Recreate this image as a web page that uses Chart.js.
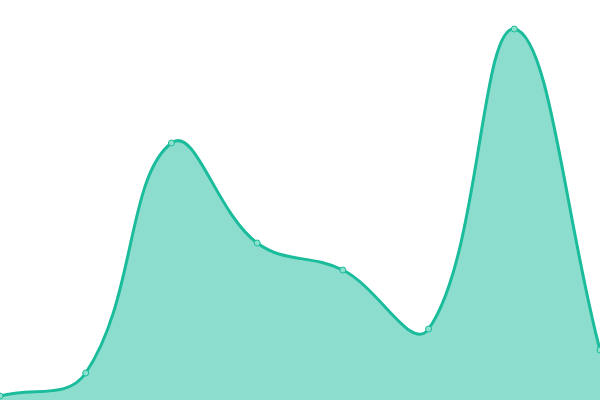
<!DOCTYPE html>
<html>
<head>
<meta charset="utf-8">
<script src="https://cdn.jsdelivr.net/npm/chart.js@4"></script>
<style>
  html, body { margin: 0; padding: 0; background: #fff; }
  #wrap { width: 600px; height: 400px; }
</style>
</head>
<body>
<div id="wrap"><canvas id="areaChart"></canvas></div>
<script>
const categories = ['1', '2', '3', '4', '5', '6', '7', '8'];
const values = [4, 27, 257, 157, 130, 71, 371, 50];
const yMin = 0;
const yMax = 400;

const ctx = document.getElementById('areaChart').getContext('2d');
new Chart(ctx, {
    type: 'line',
    data: {
        labels: categories,
        datasets: [{
            data: values,
            borderColor: '#1ABC9C',
            backgroundColor: 'rgba(26,188,156,0.5)',
            borderWidth: 3,
            fill: 'origin',
            tension: 0.4,
            pointRadius: 3,
            pointBorderWidth: 1,
            pointBackgroundColor: 'rgba(140,225,205,1)',
            pointBorderColor: '#1ABC9C'
        }]
    },
    options: {
        responsive: true,
        maintainAspectRatio: false,
        animation: false,
        layout: { padding: 0, autoPadding: false },
        plugins: { legend: { display: false }, tooltip: { enabled: false } },
        scales: {
            x: { display: false, offset: false },
            y: { display: false, min: yMin, max: yMax }
        }
    }
});
</script>
</body>
</html>
